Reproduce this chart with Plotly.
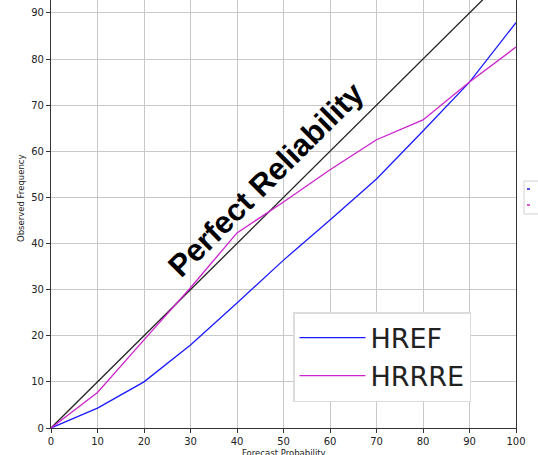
import plotly.graph_objects as go

prob = [0, 10, 20, 30, 40, 50, 60, 70, 80, 90, 100]
href = [0, 4.3, 10.0, 18.0, 27.1, 36.4, 45.1, 54.0, 64.4, 75.0, 87.9]
hrrre = [0, 7.7, 19.1, 30.4, 42.3, 49.0, 56.0, 62.5, 66.8, 75.0, 82.6]
perfect = [0, 100]
xticks = [0, 10, 20, 30, 40, 50, 60, 70, 80, 90, 100]
yticks = [0, 10, 20, 30, 40, 50, 60, 70, 80, 90]

fig = go.Figure()
fig.add_trace(go.Scatter(x=perfect, y=perfect, mode="lines",
                         line=dict(color="#222222", width=1.3), showlegend=False))
fig.add_trace(go.Scatter(x=prob, y=href, mode="lines", name="HREF",
                         line=dict(color="#1a1aff", width=1.3)))
fig.add_trace(go.Scatter(x=prob, y=hrrre, mode="lines", name="HRRRE",
                         line=dict(color="#cc22cc", width=1.3)))

fig.add_annotation(x=46.3, y=53.8, xref="x", yref="y", text="<b>Perfect Reliability</b>",
                   showarrow=False, textangle=-44.8,
                   font=dict(family="Liberation Sans, Arial, sans-serif", size=31, color="black"))

# x-axis title (partially cut at the bottom edge, as in the reference)
fig.add_annotation(x=0.5, y=(428-446)/428, xref="paper", yref="paper",
                   text="Forecast Probability", showarrow=False,
                   xanchor="center", yanchor="top",
                   font=dict(family="DejaVu Sans, sans-serif", size=8.5, color="#222222"))
# y-axis title
fig.add_annotation(x=(21-51)/465, y=(428-198)/428, xref="paper", yref="paper",
                   text="Observed Frequency", showarrow=False, textangle=-90,
                   xanchor="center", yanchor="middle",
                   font=dict(family="DejaVu Sans, sans-serif", size=8.5, color="#222222"))

# partially visible secondary legend at right edge
fig.add_shape(type="rect", xref="paper", yref="paper",
              x0=(524-51)/465, x1=(560-51)/465, y0=(428-214)/428, y1=(428-181)/428,
              line=dict(color="#d0d0d0", width=1), fillcolor="white", layer="above")
fig.add_shape(type="line", xref="paper", yref="paper",
              x0=(527-51)/465, x1=(530-51)/465, y0=(428-189)/428, y1=(428-189)/428,
              line=dict(color="#1a1aff", width=1.5), layer="above")
fig.add_shape(type="line", xref="paper", yref="paper",
              x0=(527-51)/465, x1=(530-51)/465, y0=(428-205)/428, y1=(428-205)/428,
              line=dict(color="#cc22cc", width=1.5), layer="above")

axis_font = dict(family="DejaVu Sans, sans-serif", size=10, color="#222222")
fig.update_layout(
    template="none",
    width=538, height=455,
    margin=dict(l=51, r=22, t=0, b=27, autoexpand=False),
    paper_bgcolor="white", plot_bgcolor="white",
    font=axis_font,
    legend=dict(x=(293-51)/465, y=(428-312)/428, xanchor="left", yanchor="top",
                bgcolor="white", bordercolor="#dcdcdc", borderwidth=1.5,
                font=dict(family="DejaVu Sans, sans-serif", size=27, color="#222222"),
                itemwidth=66, tracegroupgap=0),
    xaxis=dict(range=[0, 100], tickvals=xticks, showgrid=True, gridcolor="#c8c8c8",
               gridwidth=1, showline=True, linecolor="#333333", linewidth=1.2,
               ticks="outside", ticklen=4, tickcolor="#333333", zeroline=False,
               automargin=False, tickfont=axis_font),
    yaxis=dict(range=[0, 92.8], tickvals=yticks, showgrid=True, gridcolor="#c8c8c8",
               gridwidth=1, showline=True, linecolor="#333333", linewidth=1.2, mirror=True,
               ticks="outside", ticklen=4, tickcolor="#333333", zeroline=False,
               automargin=False, tickfont=axis_font),
)

fig.write_html("out.html", config={"displayModeBar": False},
               post_script="document.body.style.margin='0';document.body.style.overflow='hidden';")
